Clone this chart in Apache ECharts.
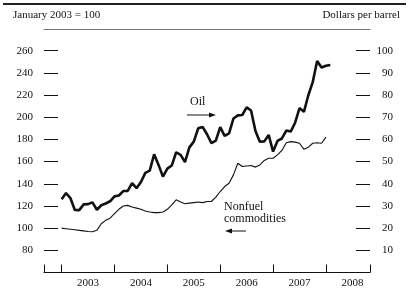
<!DOCTYPE html>
<html>
<head>
<meta charset="utf-8">
<script src="https://cdn.jsdelivr.net/npm/echarts@6/dist/echarts.min.js"></script>
<style>
  html, body { margin: 0; padding: 0; background: #fff; }
  #chart { width: 409px; height: 292px; }
</style>
</head>
<body>
<div id="chart"></div>
<script>
  // monthly, starting January 2003 (month index 0)
  var oilPrice = [
    33.0, 35.8, 33.5, 28.2, 28.1, 30.7, 30.8, 31.6, 28.3, 30.3, 31.1, 32.1,
    34.3, 34.7, 36.7, 36.8, 40.3, 38.0, 40.8, 44.9, 45.9, 53.3, 48.5, 43.2,
    46.8, 48.2, 54.2, 53.0, 49.8, 56.4, 59.0, 65.0, 65.6, 62.3, 58.3, 59.4,
    65.5, 61.6, 62.7, 69.4, 70.8, 71.0, 74.4, 73.0, 63.8, 58.9, 59.1, 62.0,
    54.5, 59.3, 60.4, 64.0, 63.5, 67.5, 74.1, 72.4, 79.9, 85.8, 95.3, 92.4,
    93.2, 93.5
  ];
  var nonfuelIndex = [
    100, 99.5, 99, 98.5, 98, 97.5, 97, 96.8, 98, 104, 107, 109,
    113, 117, 120, 120.5, 119, 118, 117, 115.5, 114.5, 114, 114, 114.5,
    117, 121, 125.5, 123.5, 122, 122.5, 123, 123.5, 123, 124, 124, 128,
    133, 137.5, 140.5, 148, 158.5, 155.5, 156, 156.5, 155, 157, 161, 163,
    163, 166, 170, 177, 178, 177.5, 176.5, 171, 173, 176.5, 177, 176.5,
    182
  ];
  var leftTicks = [80, 100, 120, 140, 160, 180, 200, 220, 240, 260];
  var rightTicks = [10, 20, 30, 40, 50, 60, 70, 80, 90, 100];
  var years = ['2003', '2004', '2005', '2006', '2007', '2008'];

  var xMin = -4, xMax = 70;
  var yearTicks = [xMin];
  var yearMids = [];
  years.forEach(function (y, i) { yearTicks.push(i * 12); yearMids.push(i * 12 + 6); });
  yearTicks.push(xMax);

  var oilData = oilPrice.map(function (v, i) { return [i, v]; });
  var nonfuelData = nonfuelIndex.map(function (v, i) { return [i, v]; });

  var font = 'Liberation Serif';
  var ink = '#111';

  var chart = echarts.init(document.getElementById('chart'));
  chart.setOption({
    animation: false,
    textStyle: { fontFamily: font, color: ink },
    grid: { left: 44, right: 39, top: 29, bottom: 19.5 },
    xAxis: [
      {
        type: 'value', min: xMin, max: xMax,
        splitLine: { show: false },
        axisLine: { onZero: false, lineStyle: { color: ink, width: 1 } },
        axisTick: { inside: true, length: 8, customValues: yearTicks, lineStyle: { color: ink } },
        axisLabel: {
          customValues: yearMids, margin: 5, fontSize: 11, color: ink, fontFamily: font,
          formatter: function (v) { return years[Math.round((v - 6) / 12)]; }
        }
      },
      {
        type: 'value', min: xMin, max: xMax, position: 'top',
        splitLine: { show: false },
        axisLine: { onZero: false, lineStyle: { color: '#777', width: 1 } },
        axisTick: { show: false },
        axisLabel: { show: false }
      }
    ],
    yAxis: [
      {
        type: 'value', min: 60, max: 279.5, position: 'left',
        splitLine: { show: false },
        axisLine: { show: false, onZero: false },
        axisTick: { inside: true, length: 14, customValues: leftTicks, lineStyle: { color: ink } },
        axisLabel: { customValues: leftTicks, margin: 11, fontSize: 11, color: ink, fontFamily: font }
      },
      {
        type: 'value', min: 0, max: 109.75, position: 'right',
        splitLine: { show: false },
        axisLine: { show: false, onZero: false },
        axisTick: { inside: true, length: 14, customValues: rightTicks, lineStyle: { color: ink } },
        axisLabel: { customValues: rightTicks, margin: 23, align: 'right', fontSize: 11, color: ink, fontFamily: font }
      }
    ],
    series: [
      {
        name: 'Nonfuel commodities', type: 'line', yAxisIndex: 0, data: nonfuelData,
        symbol: 'none', lineStyle: { color: ink, width: 1.1 }
      },
      {
        name: 'Oil', type: 'line', yAxisIndex: 1, data: oilData,
        symbol: 'none', lineStyle: { color: ink, width: 2.6 }
      }
    ],
    graphic: [
      { type: 'line', shape: { x1: 3, y1: 4, x2: 406, y2: 4 }, style: { stroke: '#222', lineWidth: 2 } },
      { type: 'text', left: 13, top: 10, style: { text: 'January 2003 = 100', font: '11px "Liberation Serif"', fill: ink } },
      { type: 'text', right: 9, top: 10, style: { text: 'Dollars per barrel', font: '11px "Liberation Serif"', fill: ink } },
      // Oil label with right arrow
      { type: 'text', left: 190, top: 96, style: { text: 'Oil', font: '12px "Liberation Serif"', fill: ink } },
      { type: 'line', shape: { x1: 187, y1: 115, x2: 212, y2: 115 }, style: { stroke: ink, lineWidth: 1 } },
      { type: 'polygon', shape: { points: [[216, 115], [209, 112.5], [209, 117.5]] }, style: { fill: ink } },
      // Nonfuel label with left arrow
      { type: 'text', left: 224, top: 201, style: { text: 'Nonfuel\ncommodities', font: '12px "Liberation Serif"', fill: ink, lineHeight: 12 } },
      { type: 'line', shape: { x1: 229, y1: 231, x2: 246, y2: 231 }, style: { stroke: ink, lineWidth: 1 } },
      { type: 'polygon', shape: { points: [[225, 231], [232, 228.5], [232, 233.5]] }, style: { fill: ink } }
    ]
  });
</script>
</body>
</html>
